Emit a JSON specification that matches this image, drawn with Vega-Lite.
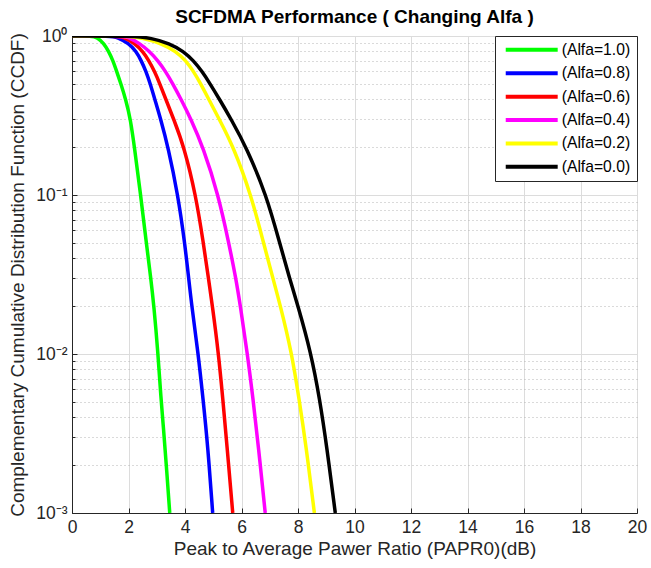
{
  "$schema": "https://vega.github.io/schema/vega-lite/v6.json",
  "autosize": "none",
  "width": 565,
  "height": 477,
  "padding": {"left": 72, "top": 36, "right": 14, "bottom": 55},
  "background": "white",
  "title": {"text": "SCFDMA Performance ( Changing Alfa )", "font": "Liberation Sans", "fontSize": 19, "fontWeight": "bold", "color": "#000000", "frame": "group", "offset": 0},
  "config": {
    "view": {"stroke": "#262626", "strokeWidth": 1},
    "axis": {"labelFont": "Liberation Sans", "titleFont": "Liberation Sans", "labelColor": "#262626", "titleColor": "#262626", "labelFontSize": 17.5, "titleFontSize": 19, "titleFontWeight": "normal", "domainColor": "#262626", "tickColor": "#262626"}
  },
  "data": {"values": [
    {"s": "(Alfa=1.0)", "x": 0, "y": 1}, {"s": "(Alfa=1.0)", "x": 0.7, "y": 1}, {"s": "(Alfa=1.0)", "x": 0.9, "y": 0.98}, {"s": "(Alfa=1.0)", "x": 1.12, "y": 0.9}, {"s": "(Alfa=1.0)", "x": 1.3, "y": 0.8}, {"s": "(Alfa=1.0)", "x": 1.45, "y": 0.7}, {"s": "(Alfa=1.0)", "x": 1.58, "y": 0.6}, {"s": "(Alfa=1.0)", "x": 1.73, "y": 0.5}, {"s": "(Alfa=1.0)", "x": 1.9, "y": 0.4}, {"s": "(Alfa=1.0)", "x": 2.07, "y": 0.3}, {"s": "(Alfa=1.0)", "x": 2.21, "y": 0.2}, {"s": "(Alfa=1.0)", "x": 2.43, "y": 0.1}, {"s": "(Alfa=1.0)", "x": 2.63, "y": 0.05}, {"s": "(Alfa=1.0)", "x": 2.79, "y": 0.03}, {"s": "(Alfa=1.0)", "x": 2.9, "y": 0.02}, {"s": "(Alfa=1.0)", "x": 3.04, "y": 0.0103}, {"s": "(Alfa=1.0)", "x": 3.15, "y": 0.0052}, {"s": "(Alfa=1.0)", "x": 3.24, "y": 0.0034}, {"s": "(Alfa=1.0)", "x": 3.33, "y": 0.0021}, {"s": "(Alfa=1.0)", "x": 3.46, "y": 0.001},
    {"s": "(Alfa=0.8)", "x": 0, "y": 1}, {"s": "(Alfa=0.8)", "x": 1.4, "y": 1}, {"s": "(Alfa=0.8)", "x": 1.6, "y": 0.98}, {"s": "(Alfa=0.8)", "x": 2.01, "y": 0.9}, {"s": "(Alfa=0.8)", "x": 2.27, "y": 0.8}, {"s": "(Alfa=0.8)", "x": 2.45, "y": 0.7}, {"s": "(Alfa=0.8)", "x": 2.62, "y": 0.6}, {"s": "(Alfa=0.8)", "x": 2.77, "y": 0.5}, {"s": "(Alfa=0.8)", "x": 2.93, "y": 0.4}, {"s": "(Alfa=0.8)", "x": 3.14, "y": 0.3}, {"s": "(Alfa=0.8)", "x": 3.4, "y": 0.2}, {"s": "(Alfa=0.8)", "x": 3.75, "y": 0.1}, {"s": "(Alfa=0.8)", "x": 3.99, "y": 0.05}, {"s": "(Alfa=0.8)", "x": 4.13, "y": 0.03}, {"s": "(Alfa=0.8)", "x": 4.24, "y": 0.02}, {"s": "(Alfa=0.8)", "x": 4.46, "y": 0.0103}, {"s": "(Alfa=0.8)", "x": 4.64, "y": 0.0052}, {"s": "(Alfa=0.8)", "x": 4.81, "y": 0.0026}, {"s": "(Alfa=0.8)", "x": 4.98, "y": 0.001},
    {"s": "(Alfa=0.6)", "x": 0, "y": 1}, {"s": "(Alfa=0.6)", "x": 1.6, "y": 1}, {"s": "(Alfa=0.6)", "x": 1.85, "y": 0.98}, {"s": "(Alfa=0.6)", "x": 2.21, "y": 0.9}, {"s": "(Alfa=0.6)", "x": 2.51, "y": 0.8}, {"s": "(Alfa=0.6)", "x": 2.72, "y": 0.7}, {"s": "(Alfa=0.6)", "x": 2.92, "y": 0.6}, {"s": "(Alfa=0.6)", "x": 3.11, "y": 0.5}, {"s": "(Alfa=0.6)", "x": 3.32, "y": 0.4}, {"s": "(Alfa=0.6)", "x": 3.6, "y": 0.3}, {"s": "(Alfa=0.6)", "x": 3.97, "y": 0.2}, {"s": "(Alfa=0.6)", "x": 4.38, "y": 0.1}, {"s": "(Alfa=0.6)", "x": 4.65, "y": 0.05}, {"s": "(Alfa=0.6)", "x": 4.83, "y": 0.03}, {"s": "(Alfa=0.6)", "x": 4.97, "y": 0.02}, {"s": "(Alfa=0.6)", "x": 5.18, "y": 0.0103}, {"s": "(Alfa=0.6)", "x": 5.34, "y": 0.0052}, {"s": "(Alfa=0.6)", "x": 5.49, "y": 0.0026}, {"s": "(Alfa=0.6)", "x": 5.69, "y": 0.001},
    {"s": "(Alfa=0.4)", "x": 0, "y": 1}, {"s": "(Alfa=0.4)", "x": 1.8, "y": 1}, {"s": "(Alfa=0.4)", "x": 2.0, "y": 0.98}, {"s": "(Alfa=0.4)", "x": 2.39, "y": 0.9}, {"s": "(Alfa=0.4)", "x": 2.74, "y": 0.8}, {"s": "(Alfa=0.4)", "x": 3.04, "y": 0.7}, {"s": "(Alfa=0.4)", "x": 3.31, "y": 0.6}, {"s": "(Alfa=0.4)", "x": 3.57, "y": 0.5}, {"s": "(Alfa=0.4)", "x": 3.86, "y": 0.4}, {"s": "(Alfa=0.4)", "x": 4.21, "y": 0.3}, {"s": "(Alfa=0.4)", "x": 4.64, "y": 0.2}, {"s": "(Alfa=0.4)", "x": 5.18, "y": 0.1}, {"s": "(Alfa=0.4)", "x": 5.55, "y": 0.05}, {"s": "(Alfa=0.4)", "x": 5.8, "y": 0.03}, {"s": "(Alfa=0.4)", "x": 5.96, "y": 0.02}, {"s": "(Alfa=0.4)", "x": 6.2, "y": 0.0103}, {"s": "(Alfa=0.4)", "x": 6.41, "y": 0.0052}, {"s": "(Alfa=0.4)", "x": 6.6, "y": 0.0026}, {"s": "(Alfa=0.4)", "x": 6.84, "y": 0.001},
    {"s": "(Alfa=0.2)", "x": 0, "y": 1}, {"s": "(Alfa=0.2)", "x": 2.0, "y": 1}, {"s": "(Alfa=0.2)", "x": 2.5, "y": 0.97}, {"s": "(Alfa=0.2)", "x": 3.16, "y": 0.9}, {"s": "(Alfa=0.2)", "x": 3.68, "y": 0.8}, {"s": "(Alfa=0.2)", "x": 4.03, "y": 0.7}, {"s": "(Alfa=0.2)", "x": 4.3, "y": 0.6}, {"s": "(Alfa=0.2)", "x": 4.56, "y": 0.5}, {"s": "(Alfa=0.2)", "x": 4.84, "y": 0.4}, {"s": "(Alfa=0.2)", "x": 5.21, "y": 0.3}, {"s": "(Alfa=0.2)", "x": 5.72, "y": 0.2}, {"s": "(Alfa=0.2)", "x": 6.34, "y": 0.1}, {"s": "(Alfa=0.2)", "x": 6.78, "y": 0.05}, {"s": "(Alfa=0.2)", "x": 7.11, "y": 0.03}, {"s": "(Alfa=0.2)", "x": 7.38, "y": 0.02}, {"s": "(Alfa=0.2)", "x": 7.77, "y": 0.0103}, {"s": "(Alfa=0.2)", "x": 8.04, "y": 0.0052}, {"s": "(Alfa=0.2)", "x": 8.29, "y": 0.0026}, {"s": "(Alfa=0.2)", "x": 8.58, "y": 0.001},
    {"s": "(Alfa=0.0)", "x": 0, "y": 1}, {"s": "(Alfa=0.0)", "x": 2.2, "y": 1}, {"s": "(Alfa=0.0)", "x": 2.8, "y": 0.97}, {"s": "(Alfa=0.0)", "x": 3.45, "y": 0.9}, {"s": "(Alfa=0.0)", "x": 3.95, "y": 0.8}, {"s": "(Alfa=0.0)", "x": 4.3, "y": 0.7}, {"s": "(Alfa=0.0)", "x": 4.6, "y": 0.6}, {"s": "(Alfa=0.0)", "x": 4.89, "y": 0.5}, {"s": "(Alfa=0.0)", "x": 5.22, "y": 0.4}, {"s": "(Alfa=0.0)", "x": 5.63, "y": 0.3}, {"s": "(Alfa=0.0)", "x": 6.17, "y": 0.2}, {"s": "(Alfa=0.0)", "x": 6.88, "y": 0.1}, {"s": "(Alfa=0.0)", "x": 7.35, "y": 0.05}, {"s": "(Alfa=0.0)", "x": 7.7, "y": 0.03}, {"s": "(Alfa=0.0)", "x": 8.0, "y": 0.02}, {"s": "(Alfa=0.0)", "x": 8.45, "y": 0.0103}, {"s": "(Alfa=0.0)", "x": 8.77, "y": 0.0052}, {"s": "(Alfa=0.0)", "x": 9.02, "y": 0.0026}, {"s": "(Alfa=0.0)", "x": 9.32, "y": 0.001}
  ]},
  "mark": {"type": "line", "strokeWidth": 3.5, "clip": true, "interpolate": "basis"},
  "encoding": {
    "x": {"field": "x", "type": "quantitative", "scale": {"domain": [0, 20], "nice": false, "zero": false},
      "axis": {"title": "Peak to Average Pawer Ratio (PAPR0)(dB)", "values": [0, 2, 4, 6, 8, 10, 12, 14, 16, 18, 20], "format": "d", "grid": true, "gridColor": "#dcdcdc", "gridWidth": 1, "tickSize": -5, "labelPadding": 10, "titlePadding": 4, "labelFlush": false}},
    "y": {"field": "y", "type": "quantitative", "scale": {"type": "log", "domain": [0.001, 1], "nice": false},
      "axis": {"title": "Complementary Cumulative Distribution Function (CCDF)",
        "values": [0.001, 0.002, 0.003, 0.004, 0.005, 0.006, 0.007, 0.008, 0.009, 0.01, 0.02, 0.03, 0.04, 0.05, 0.06, 0.07, 0.08, 0.09, 0.1, 0.2, 0.3, 0.4, 0.5, 0.6, 0.7, 0.8, 0.9, 1],
        "labelExpr": "datum.value === 1 ? '10⁰' : datum.value === 0.1 ? '10⁻¹' : datum.value === 0.01 ? '10⁻²' : datum.value === 0.001 ? '10⁻³' : ''",
        "labelOverlap": false, "labelFlush": false,
        "grid": true,
        "gridDash": {"condition": {"test": "datum.value === 1 || datum.value === 0.1 || datum.value === 0.01 || datum.value === 0.001", "value": []}, "value": [1, 3]},
        "gridColor": {"condition": {"test": "datum.value === 1 || datum.value === 0.1 || datum.value === 0.01 || datum.value === 0.001", "value": "#dcdcdc"}, "value": "#b4b4b4"},
        "tickSize": {"condition": {"test": "datum.value === 1 || datum.value === 0.1 || datum.value === 0.01 || datum.value === 0.001", "value": -5}, "value": -3},
        "labelPadding": 10, "titlePadding": 8}},
    "color": {"field": "s", "type": "nominal",
      "scale": {"domain": ["(Alfa=1.0)", "(Alfa=0.8)", "(Alfa=0.6)", "(Alfa=0.4)", "(Alfa=0.2)", "(Alfa=0.0)"], "range": ["#00ff00", "#0000ff", "#ff0000", "#ff00ff", "#ffff00", "#000000"]},
      "legend": {"title": null, "orient": "top-right", "offset": 0, "symbolType": "M-0.6,0H9.4", "symbolSize": 108, "symbolStrokeWidth": 4, "labelFont": "Liberation Sans", "labelFontSize": 15.7, "labelColor": "#000000", "strokeColor": "#262626", "fillColor": "white", "padding": 6, "rowPadding": 6.4, "labelOffset": 45}}
  }
}
